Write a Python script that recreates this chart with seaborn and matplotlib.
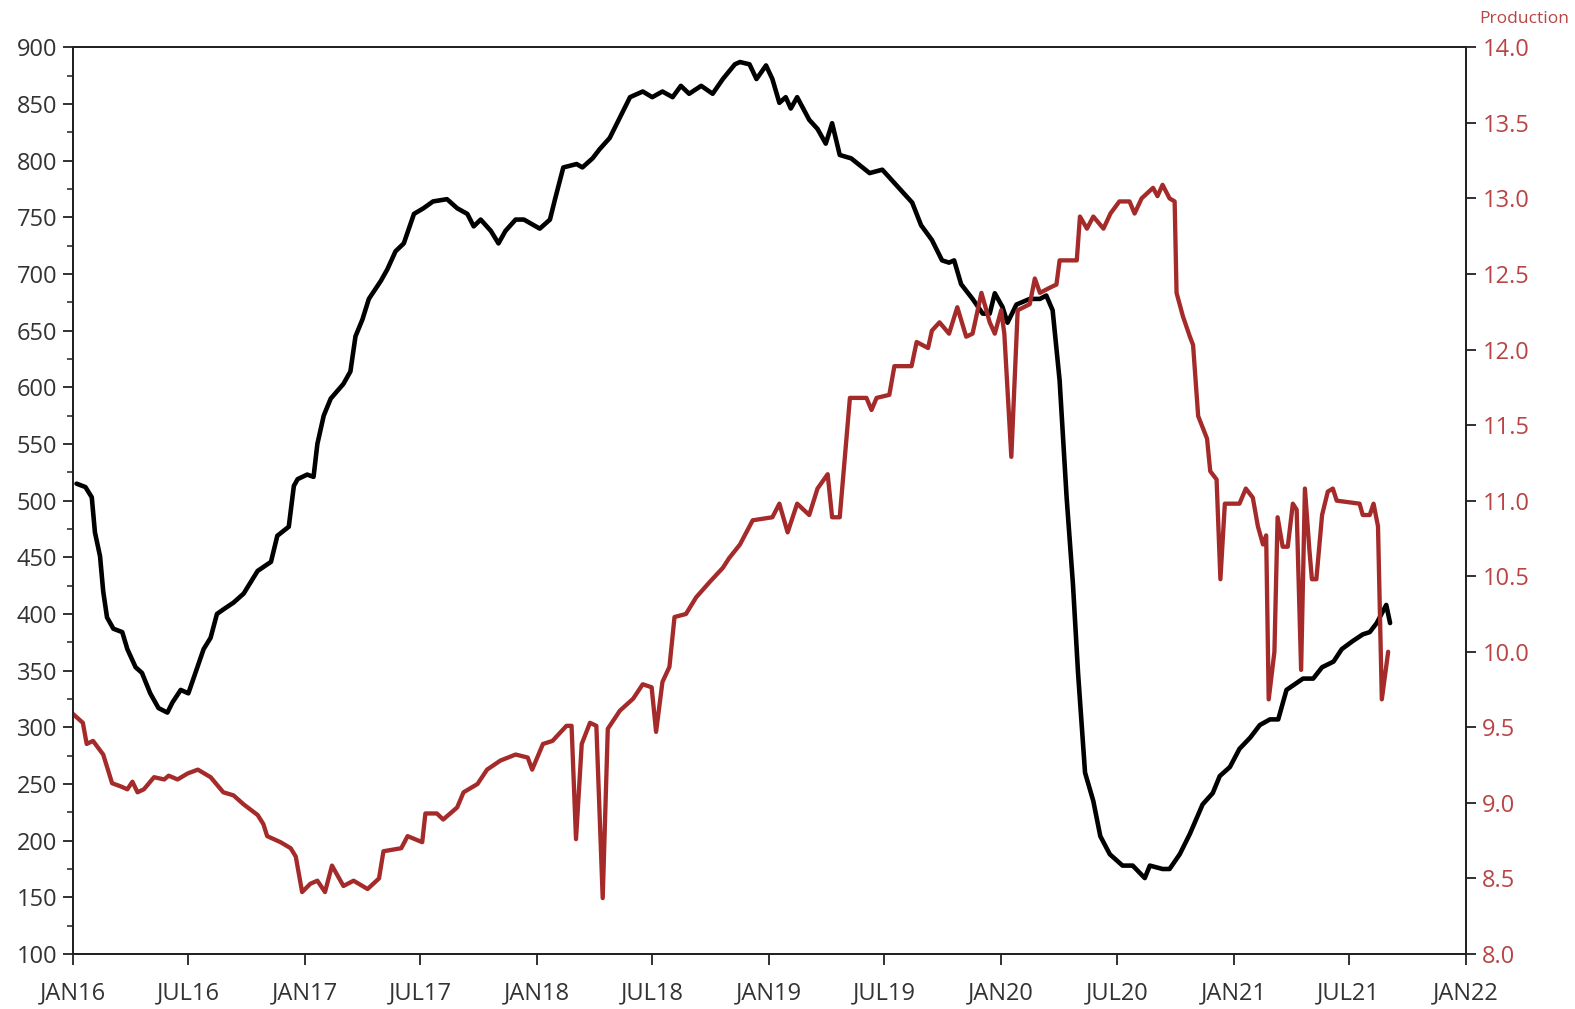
import matplotlib
matplotlib.use("Agg")
import matplotlib.pyplot as plt
from matplotlib.ticker import MultipleLocator, FormatStrFormatter
import pandas as pd
import seaborn as sns

# ---- Rig count (left axis, black) ----
rig_dates = [
    "2016-01-07", "2016-01-21", "2016-01-31", "2016-02-05", "2016-02-13", "2016-02-18", "2016-02-24",
    "2016-03-05", "2016-03-19", "2016-03-27", "2016-04-09", "2016-04-19", "2016-05-02", "2016-05-15",
    "2016-05-29", "2016-06-06", "2016-06-19", "2016-07-01", "2016-07-12", "2016-07-25", "2016-08-05",
    "2016-08-15", "2016-08-25", "2016-09-10", "2016-09-26", "2016-10-18", "2016-11-08", "2016-11-18",
    "2016-12-06", "2016-12-14", "2016-12-20", "2017-01-04", "2017-01-14", "2017-01-20", "2017-01-30",
    "2017-02-10", "2017-03-02", "2017-03-13", "2017-03-21", "2017-04-01", "2017-04-11", "2017-04-30",
    "2017-05-10", "2017-05-23", "2017-06-05", "2017-06-21", "2017-07-06", "2017-07-21", "2017-08-12",
    "2017-08-28", "2017-09-13", "2017-09-23", "2017-10-04", "2017-10-20", "2017-11-01", "2017-11-12",
    "2017-11-28", "2017-12-11", "2018-01-05", "2018-01-21", "2018-01-29", "2018-02-11", "2018-03-04",
    "2018-03-13", "2018-03-29", "2018-04-09", "2018-04-25", "2018-05-11", "2018-05-27", "2018-06-16",
    "2018-07-01", "2018-07-17", "2018-08-02", "2018-08-15", "2018-08-28", "2018-09-16", "2018-10-04",
    "2018-10-20", "2018-11-08", "2018-11-16", "2018-12-01", "2018-12-12", "2018-12-27", "2019-01-06",
    "2019-01-17", "2019-01-27", "2019-02-04", "2019-02-14", "2019-03-05", "2019-03-18", "2019-03-31",
    "2019-04-10", "2019-04-22", "2019-05-10", "2019-05-28", "2019-06-08", "2019-06-28", "2019-07-19",
    "2019-08-14", "2019-08-28", "2019-09-14", "2019-09-30", "2019-10-11", "2019-10-19", "2019-10-30",
    "2019-11-17", "2019-12-03", "2019-12-14", "2019-12-22", "2020-01-03", "2020-01-11", "2020-01-25",
    "2020-02-15", "2020-03-02", "2020-03-12", "2020-03-22", "2020-04-02", "2020-04-13", "2020-04-23",
    "2020-05-01", "2020-05-12", "2020-05-25", "2020-06-05", "2020-06-20", "2020-07-10", "2020-07-26",
    "2020-08-14", "2020-08-22", "2020-09-11", "2020-09-22", "2020-10-08", "2020-10-24", "2020-11-03",
    "2020-11-13", "2020-11-29", "2020-12-10", "2020-12-26", "2021-01-10", "2021-01-27", "2021-02-11",
    "2021-02-27", "2021-03-12", "2021-03-25", "2021-04-07", "2021-04-20", "2021-05-06", "2021-05-20",
    "2021-06-07", "2021-06-20", "2021-07-07", "2021-07-23", "2021-08-03", "2021-08-14", "2021-08-29",
    "2021-09-04",
]
rig_values = [
    515, 512, 503, 472, 451, 420, 397,
    387, 384, 369, 353, 348, 330, 317,
    313, 322, 333, 330, 348, 369, 379,
    400, 404, 410, 418, 438, 446, 469,
    477, 513, 519, 523, 521, 550, 575,
    590, 603, 614, 645, 660, 678, 694,
    704, 720, 727, 753, 758, 764, 766,
    758, 753, 742, 748, 738, 727, 738,
    748, 748, 740, 748, 766, 794, 797,
    794, 802, 810, 820, 838, 856, 861,
    856, 861, 856, 866, 859, 866, 859,
    872, 885, 887, 885, 872, 884, 872,
    851, 856, 846, 856, 836, 828, 815,
    833, 805, 802, 794, 789, 792, 779,
    763, 743, 730, 712, 710, 712, 691,
    678, 665, 665, 683, 671, 657, 673,
    678, 678, 681, 668, 606, 503, 426,
    348, 260, 235, 204, 188, 178, 178,
    167, 178, 175, 175, 188, 206, 219,
    232, 242, 257, 265, 281, 291, 302,
    307, 307, 333, 338, 343, 343, 353,
    358, 369, 376, 382, 384, 392, 408,
    392,
]

# ---- Production (right axis, red) ----
prod_dates = [
    "2016-01-01", "2016-01-17", "2016-01-23", "2016-02-02", "2016-02-18", "2016-03-03", "2016-03-16",
    "2016-03-27", "2016-04-04", "2016-04-12", "2016-04-22", "2016-05-08", "2016-05-24", "2016-05-31",
    "2016-06-14", "2016-06-30", "2016-07-16", "2016-08-05", "2016-08-25", "2016-09-10", "2016-09-26",
    "2016-10-18", "2016-10-27", "2016-11-02", "2016-11-23", "2016-12-09", "2016-12-17", "2016-12-27",
    "2017-01-09", "2017-01-20", "2017-02-01", "2017-02-12", "2017-03-02", "2017-03-18", "2017-04-09",
    "2017-04-27", "2017-05-04", "2017-06-01", "2017-06-11", "2017-07-04", "2017-07-09", "2017-07-27",
    "2017-08-06", "2017-08-28", "2017-09-07", "2017-09-29", "2017-10-14", "2017-11-04", "2017-11-28",
    "2017-12-17", "2017-12-24", "2018-01-10", "2018-01-25", "2018-02-16", "2018-02-24", "2018-03-03",
    "2018-03-12", "2018-03-25", "2018-04-04", "2018-04-14", "2018-04-22", "2018-05-11", "2018-06-01",
    "2018-06-16", "2018-06-30", "2018-07-07", "2018-07-17", "2018-07-28", "2018-08-05", "2018-08-23",
    "2018-09-08", "2018-09-29", "2018-10-20", "2018-10-30", "2018-11-16", "2018-12-06", "2019-01-06",
    "2019-01-17", "2019-01-30", "2019-02-14", "2019-03-05", "2019-03-18", "2019-04-03", "2019-04-10",
    "2019-04-22", "2019-05-08", "2019-06-03", "2019-06-11", "2019-06-19", "2019-07-09", "2019-07-17",
    "2019-08-13", "2019-08-21", "2019-09-08", "2019-09-14", "2019-09-26", "2019-10-11", "2019-10-24",
    "2019-11-07", "2019-11-17", "2019-12-01", "2019-12-14", "2019-12-22", "2020-01-01", "2020-01-06",
    "2020-01-17", "2020-01-27", "2020-02-15", "2020-02-23", "2020-03-02", "2020-03-18", "2020-03-28",
    "2020-04-02", "2020-04-29", "2020-05-04", "2020-05-15", "2020-05-25", "2020-06-10", "2020-06-21",
    "2020-07-05", "2020-07-21", "2020-07-29", "2020-08-09", "2020-08-27", "2020-09-03", "2020-09-11",
    "2020-09-22", "2020-09-30", "2020-10-03", "2020-10-13", "2020-10-24", "2020-10-29", "2020-11-06",
    "2020-11-20", "2020-11-25", "2020-12-05", "2020-12-11", "2020-12-18", "2021-01-10", "2021-01-20",
    "2021-01-31", "2021-02-08", "2021-02-16", "2021-02-21", "2021-02-25", "2021-03-06", "2021-03-11",
    "2021-03-19", "2021-03-27", "2021-04-04", "2021-04-10", "2021-04-17", "2021-04-23", "2021-04-30",
    "2021-05-04", "2021-05-11", "2021-05-20", "2021-05-29", "2021-06-06", "2021-06-12", "2021-07-18",
    "2021-07-23", "2021-08-03", "2021-08-09", "2021-08-16", "2021-08-22", "2021-09-01",
]
prod_values = [
    9.59, 9.53, 9.39, 9.41, 9.32, 9.13, 9.11,
    9.09, 9.14, 9.07, 9.09, 9.17, 9.155, 9.18,
    9.155, 9.195, 9.22, 9.17, 9.07, 9.05, 8.99,
    8.92, 8.86, 8.78, 8.74, 8.70, 8.645, 8.41,
    8.465, 8.485, 8.41, 8.585, 8.45, 8.485, 8.43,
    8.50, 8.68, 8.70, 8.78, 8.74, 8.93, 8.93,
    8.89, 8.97, 9.07, 9.125, 9.22, 9.28, 9.32,
    9.30, 9.22, 9.39, 9.41, 9.51, 9.51, 8.76,
    9.39, 9.53, 9.51, 8.37, 9.49, 9.61, 9.69,
    9.785, 9.765, 9.47, 9.80, 9.90, 10.23, 10.25,
    10.36, 10.46, 10.555, 10.62, 10.71, 10.87, 10.89,
    10.98, 10.79, 10.98, 10.905, 11.08, 11.175, 10.89,
    10.89, 11.68, 11.68, 11.60, 11.68, 11.70, 11.89,
    11.89, 12.05, 12.01, 12.125, 12.18, 12.105, 12.28,
    12.085, 12.105, 12.375, 12.18, 12.105, 12.26, 12.105,
    11.29, 12.26, 12.30, 12.47, 12.375, 12.41, 12.43,
    12.59, 12.59, 12.88, 12.80, 12.88, 12.80, 12.90,
    12.98, 12.98, 12.90, 13.00, 13.07, 13.015, 13.09,
    13.00, 12.98, 12.375, 12.22, 12.085, 12.03, 11.56,
    11.41, 11.195, 11.14, 10.48, 10.98, 10.98, 11.08,
    11.02, 10.83, 10.71, 10.77, 9.685, 10.00, 10.89,
    10.695, 10.695, 10.98, 10.94, 9.88, 11.08, 10.675,
    10.48, 10.48, 10.905, 11.06, 11.08, 11.00, 10.98,
    10.905, 10.905, 10.98, 10.83, 9.685, 10.00,
]

x_tick_dates = ["2016-01-01", "2016-07-01", "2017-01-01", "2017-07-01", "2018-01-01", "2018-07-01",
                "2019-01-01", "2019-07-01", "2020-01-01", "2020-07-01", "2021-01-01", "2021-07-01",
                "2022-01-01"]
x_tick_labels = ["JAN16", "JUL16", "JAN17", "JUL17", "JAN18", "JUL18", "JAN19", "JUL19",
                 "JAN20", "JUL20", "JAN21", "JUL21", "JAN22"]
left_ticks = list(range(100, 901, 50))
right_ticks = [8.0, 8.5, 9.0, 9.5, 10.0, 10.5, 11.0, 11.5, 12.0, 12.5, 13.0, 13.5, 14.0]

rig_df = pd.DataFrame({"date": pd.to_datetime(rig_dates), "rigs": rig_values})
prod_df = pd.DataFrame({"date": pd.to_datetime(prod_dates), "prod": prod_values})

sns.set_style("ticks")
plt.rcParams["font.family"] = ["Open Sans", "DejaVu Sans"]

RED = "#A52A2A"
RED_TXT = "#B94444"
TXT = "#333333"

fig = plt.figure(figsize=(15.75, 10.09), dpi=100)
ax = fig.add_axes([72.7 / 1575, 1 - 954 / 1009, 1393 / 1575, 906.7 / 1009])
ax2 = ax.twinx()

sns.lineplot(data=rig_df, x="date", y="rigs", ax=ax, color="black", linewidth=3.3,
             solid_joinstyle="round", solid_capstyle="round")
sns.lineplot(data=prod_df, x="date", y="prod", ax=ax2, color=RED, linewidth=3.1,
             solid_joinstyle="round", solid_capstyle="round")

ax.set_xlim(pd.Timestamp("2016-01-01"), pd.Timestamp("2022-01-01"))
ax.set_ylim(100, 900)
ax2.set_ylim(8, 14)

ax.set_xticks(pd.to_datetime(x_tick_dates))
ax.set_xticklabels(x_tick_labels)
ax.set_yticks(left_ticks)
ax.yaxis.set_minor_locator(MultipleLocator(25))
ax2.set_yticks(right_ticks)
ax2.yaxis.set_major_formatter(FormatStrFormatter("%.1f"))

ax.set_xlabel("")
ax.set_ylabel("")
ax2.set_xlabel("")
ax2.set_ylabel("Production", rotation=0, color=RED_TXT, fontsize=12.5, ha="center", va="center")
ax2.yaxis.set_label_coords(1.042, 1.031)

ax.tick_params(axis="x", which="major", direction="out", length=8, width=1.3,
               labelsize=17, colors="#222222", labelcolor=TXT, pad=12)
ax.tick_params(axis="y", which="major", direction="out", length=7, width=1.3,
               labelsize=17, colors="#222222", labelcolor=TXT, pad=4)
ax.tick_params(axis="y", which="minor", direction="out", length=4, width=1.1, colors="#222222")
ax2.tick_params(axis="y", which="major", direction="out", length=7, width=1.3,
                labelsize=17, colors="#222222", labelcolor=RED_TXT, pad=5)
ax2.tick_params(axis="y", which="minor", length=0)

for a in (ax, ax2):
    for s in a.spines.values():
        s.set_visible(True)
        s.set_color("#222222")
        s.set_linewidth(1.4)
    a.grid(False)
    if a.get_legend() is not None:
        a.get_legend().remove()

fig.savefig("out.png", dpi=100, facecolor="white")
